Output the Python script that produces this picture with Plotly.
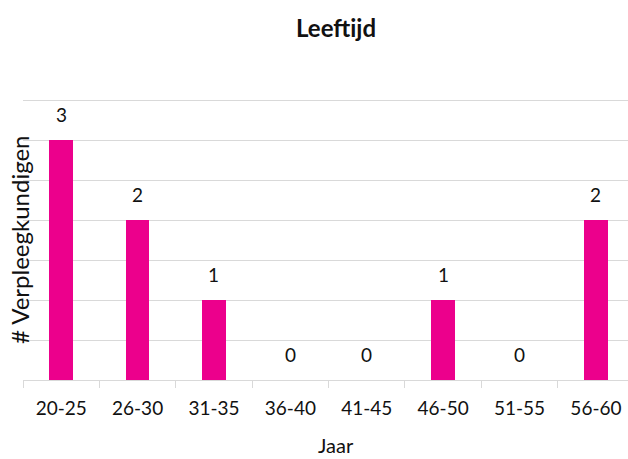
import plotly.graph_objects as go

# Age groups and number of nurses per group
leeftijdsgroepen = ["20-25", "26-30", "31-35", "36-40", "41-45", "46-50", "51-55", "56-60"]
aantallen = [3, 2, 1, 0, 0, 1, 0, 2]

titel = "Leeftijd"
x_titel = "Jaar"
y_titel = "# Verpleegkundigen"

FONT = "Lato"
TEXT = "#111111"
GRID = "#d9d9d9"
MAGENTA = "#EC008C"

W, H = 628, 459
ML, MR, MT, MB = 23, 0, 96, 79
Y_MAX = 3.55

fig = go.Figure()
fig.add_trace(go.Bar(
    x=leeftijdsgroepen,
    y=aantallen,
    width=0.31,
    marker=dict(color=MAGENTA, line=dict(width=0)),
    hoverinfo="x+y",
))

# value labels above each bar
for cat, val in zip(leeftijdsgroepen, aantallen):
    fig.add_annotation(
        x=cat, y=val, xref="x", yref="y",
        text=str(val), showarrow=False,
        yanchor="middle", yshift=26,
        font=dict(family=FONT, size=19, color=TEXT),
    )

plot_w = W - ML - MR
plot_h = H - MT - MB

def px_x(px):
    return (px - ML) / plot_w

def px_y(py):
    return (H - MB - py) / plot_h

fig.add_annotation(
    x=px_x(336), y=px_y(27), xref="paper", yref="paper",
    text="<b>" + titel + "</b>", showarrow=False,
    xanchor="center", yanchor="middle",
    font=dict(family=FONT, size=24, color=TEXT),
)
fig.add_annotation(
    x=px_x(336), y=px_y(445), xref="paper", yref="paper",
    text=x_titel, showarrow=False,
    xanchor="center", yanchor="middle",
    font=dict(family=FONT, size=20, color=TEXT),
)
fig.add_annotation(
    x=px_x(19), y=px_y(240), xref="paper", yref="paper",
    text=y_titel, showarrow=False, textangle=-90,
    xanchor="center", yanchor="middle",
    font=dict(family=FONT, size=24, color=TEXT),
)

fig.update_layout(
    width=W, height=H,
    margin=dict(l=ML, r=MR, t=MT, b=MB, pad=0),
    plot_bgcolor="white", paper_bgcolor="white",
    showlegend=False,
    bargap=0,
    font=dict(family=FONT, size=19, color=TEXT),
)
fig.update_xaxes(
    type="category",
    range=[-0.5, 7.42],
    showgrid=False,
    showline=True, linecolor=GRID, linewidth=1,
    ticks="outside", tickson="boundaries", ticklen=7, tickcolor=GRID, tickwidth=1,
    ticklabelstandoff=11,
    tickfont=dict(family=FONT, size=19, color=TEXT),
    fixedrange=True,
)
fig.update_yaxes(
    range=[0, Y_MAX], dtick=0.5, tick0=0,
    showgrid=True, gridcolor=GRID, gridwidth=1,
    showticklabels=False, zeroline=False, showline=False,
    fixedrange=True,
)

fig.write_html("out.html")
